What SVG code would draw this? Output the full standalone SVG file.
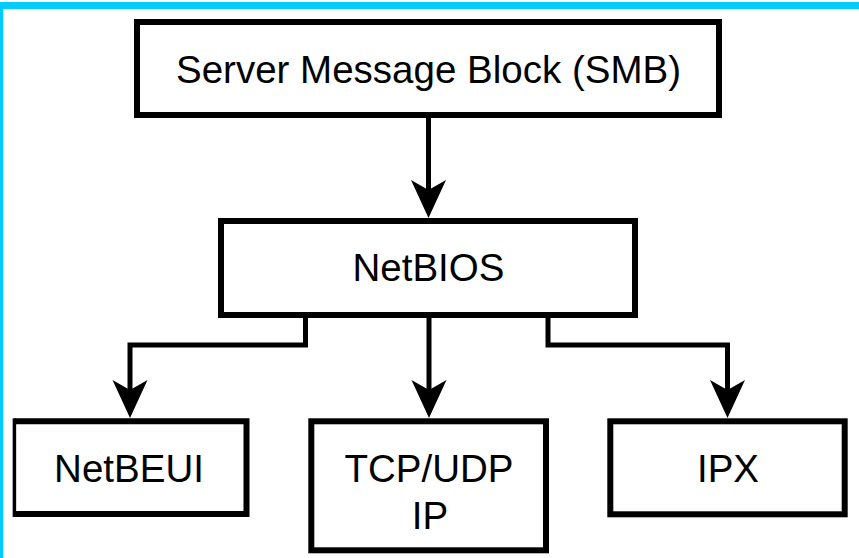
<svg xmlns="http://www.w3.org/2000/svg" width="859" height="558" viewBox="0 0 859 558">
  <style>
    .box { fill: #ffffff; stroke: #000000; stroke-width: 6; }
    .lbl { font-family: "Liberation Sans", Arial, sans-serif; font-size: 38.5px; fill: #000000; text-anchor: middle; }
    .conn { fill: none; stroke: #000000; stroke-width: 5; stroke-linejoin: miter; stroke-linecap: butt; }
  </style>
  <defs>
    <marker id="arrow" markerUnits="userSpaceOnUse" viewBox="0 -18 40 36" markerWidth="40" markerHeight="36" refX="10" refY="0" orient="auto">
      <path d="M0,-17.5 L38,0 L0,17.5 L10,0 Z" fill="#000000"/>
    </marker>
  </defs>
  <rect x="0" y="0" width="859" height="558" fill="#ffffff"/>
  <g id="frame">
    <rect x="0" y="2" width="859" height="7" fill="#00ccff"/>
    <rect x="0" y="2" width="3.3" height="556" fill="#00ccff"/>
  </g>
  <g id="connectors">
    <path class="conn" d="M428.5,118 V190" marker-end="url(#arrow)"/>
    <path class="conn" d="M305.5,318 V345 H130 V390" marker-end="url(#arrow)"/>
    <path class="conn" d="M429,318 V390" marker-end="url(#arrow)"/>
    <path class="conn" d="M548,318 V345 H727.5 V390" marker-end="url(#arrow)"/>
  </g>
  <g id="smb">
    <rect class="box" x="137" y="22" width="582" height="93"/>
    <text class="lbl" x="428.5" y="82.5">Server Message Block (SMB)</text>
  </g>
  <g id="netbios">
    <rect class="box" x="221" y="221" width="414" height="94"/>
    <text class="lbl" x="428.5" y="281">NetBIOS</text>
  </g>
  <g id="netbeui">
    <rect x="14.5" y="421.3" width="232" height="92.7" fill="#ffffff"/>
    <path d="M14.5,421.3 H246.5 V514 H14.5" fill="none" stroke="#000000" stroke-width="6"/>
    <line x1="14.4" y1="418.3" x2="14.4" y2="517" stroke="#000000" stroke-width="3.5"/>
    <text class="lbl" x="129" y="481.7">NetBEUI</text>
  </g>
  <g id="tcpip">
    <rect class="box" x="311.3" y="421.3" width="234.7" height="129"/>
    <text class="lbl" x="429" y="481.7">TCP/UDP</text>
    <text class="lbl" x="430" y="529.3">IP</text>
  </g>
  <g id="ipx">
    <rect class="box" x="610.3" y="421.3" width="234.4" height="93"/>
    <text class="lbl" x="728" y="481.7">IPX</text>
  </g>
</svg>
